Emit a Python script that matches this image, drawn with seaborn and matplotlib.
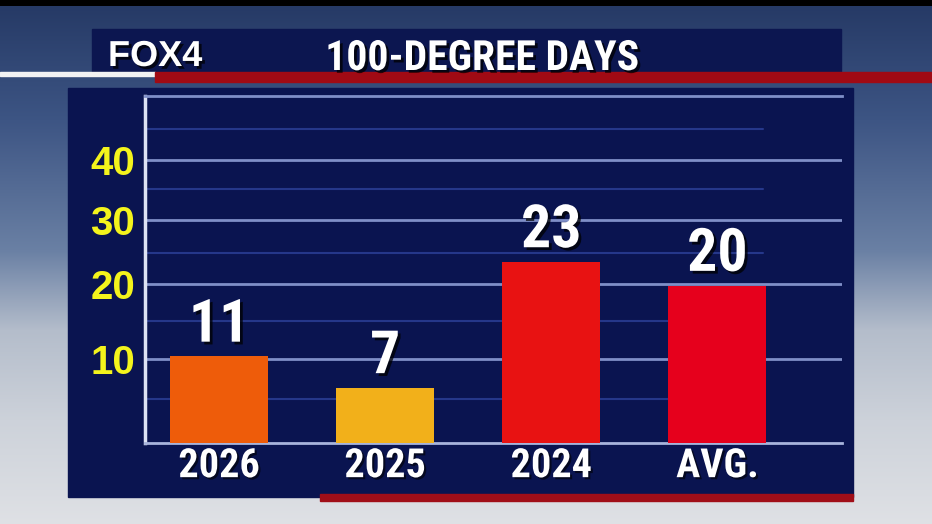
import numpy as np
import matplotlib
matplotlib.use("Agg")
import matplotlib.pyplot as plt
import matplotlib.patheffects as pe
from matplotlib.patches import Rectangle
import seaborn as sns

# ---- data ----
categories = ["2026", "2025", "2024", "AVG."]
values = [11, 7, 23, 20]
bar_colors = ["#EE5C0A", "#F2B01A", "#E81212", "#E6001C"]
tick_labels = ["10", "20", "30", "40"]
tick_positions = [10.67, 20.2, 28.3, 35.96]
minor_positions = [5.59, 15.5, 24.14, 32.27, 39.9]
title_text = "100-DEGREE DAYS"
logo_text = "FOX4"

sns.set_theme(style="white")
NARROW = ["Roboto Condensed", "Liberation Sans", "DejaVu Sans"]
plt.rcParams["font.family"] = ["Liberation Sans", "DejaVu Sans"]

W, H = 932, 524
fig = plt.figure(figsize=(W / 100, H / 100), dpi=100)

# ---- background (sky / studio) ----
bg = fig.add_axes([0, 0, 1, 1], zorder=0)
bg.set_xlim(0, W)
bg.set_ylim(H, 0)
bg.axis("off")
stops_y = [0, 5, 6, 120, 250, 330, 420, 524]
stops_c = ["#000000", "#000000", "#263a66", "#3d5584", "#6a80a4", "#b4bdcb", "#cdd2da", "#dfe1e5"]
rgb = np.array([matplotlib.colors.to_rgb(c) for c in stops_c])
yy = np.arange(H)
grad = np.stack([np.interp(yy, stops_y, rgb[:, i]) for i in range(3)], axis=-1)[:, None, :]
bg.imshow(grad, extent=[0, W, H, 0], aspect="auto", zorder=0)

# panel + banners
bg.add_patch(Rectangle((68, 88), 853 - 68, 497 - 88, color="#0a1450", zorder=1))
bg.add_patch(Rectangle((320, 494), 853 - 320, 7, color="#a00e18", zorder=1))
bg.add_patch(Rectangle((92, 29), 841 - 92, 72 - 29, color="#0c1650", zorder=1))
bg.add_patch(Rectangle((0, 72), 155, 4, color="#f2f2f2", zorder=2))
bg.add_patch(Rectangle((155, 72), W - 155, 10, color="#a00a14", zorder=2))

shadow = [pe.withSimplePatchShadow(offset=(2, -2), shadow_rgbFace="black", alpha=0.75)]
bg.text(108, 66, logo_text, color="white", fontsize=26, fontweight="bold",
        family=["Liberation Sans", "DejaVu Sans"], ha="left", va="baseline", zorder=3,
        path_effects=shadow)
bg.text(482, 70, title_text, color="white", fontsize=30, fontweight="bold",
        family=NARROW, ha="center", va="baseline", zorder=3, path_effects=shadow)

# ---- main chart ----
ax = fig.add_axes([145 / W, 1 - 443 / H, (842 - 145) / W, (443 - 96) / H], zorder=1)
ax.patch.set_alpha(0)

sns.barplot(x=categories, y=values, hue=categories, palette=bar_colors, legend=False,
            width=0.59, saturation=1, linewidth=0, ax=ax, zorder=3)

ax.set_xlim(-0.446, 3.75)
ax.set_ylim(0, 44.1)

for p in tick_positions:
    ax.axhline(p, color="#7f8fc8", lw=2, zorder=1)
for p in minor_positions:
    ax.axhline(p, xmin=0, xmax=0.887, color="#25378a", lw=1.5, zorder=1)

for cont in ax.containers:
    ax.bar_label(cont, fontsize=43, fontweight="bold", color="white", family=NARROW,
                 padding=2, zorder=4, path_effects=shadow)

ax.set_yticks(tick_positions, tick_labels)
ax.tick_params(axis="y", length=0, pad=7, labelsize=29, labelcolor="#f4f41c")
for lab in ax.get_yticklabels():
    lab.set_fontweight("bold")

ax.tick_params(axis="x", length=0, pad=3, labelsize=29, labelcolor="white")
for lab in ax.get_xticklabels():
    lab.set_fontweight("bold")
    lab.set_fontfamily(NARROW)
    lab.set_path_effects([pe.withSimplePatchShadow(offset=(1.5, -1.5), shadow_rgbFace="black", alpha=0.6)])

ax.set_xlabel("")
ax.set_ylabel("")
ax.spines["left"].set_color("#dde2f4")
ax.spines["left"].set_linewidth(2.5)
ax.spines["bottom"].set_color("#a8b4dc")
ax.spines["bottom"].set_linewidth(2)
ax.spines["top"].set_color("#7f8fc8")
ax.spines["top"].set_linewidth(2)
ax.spines["right"].set_visible(False)

fig.savefig("out.png", dpi=100)
